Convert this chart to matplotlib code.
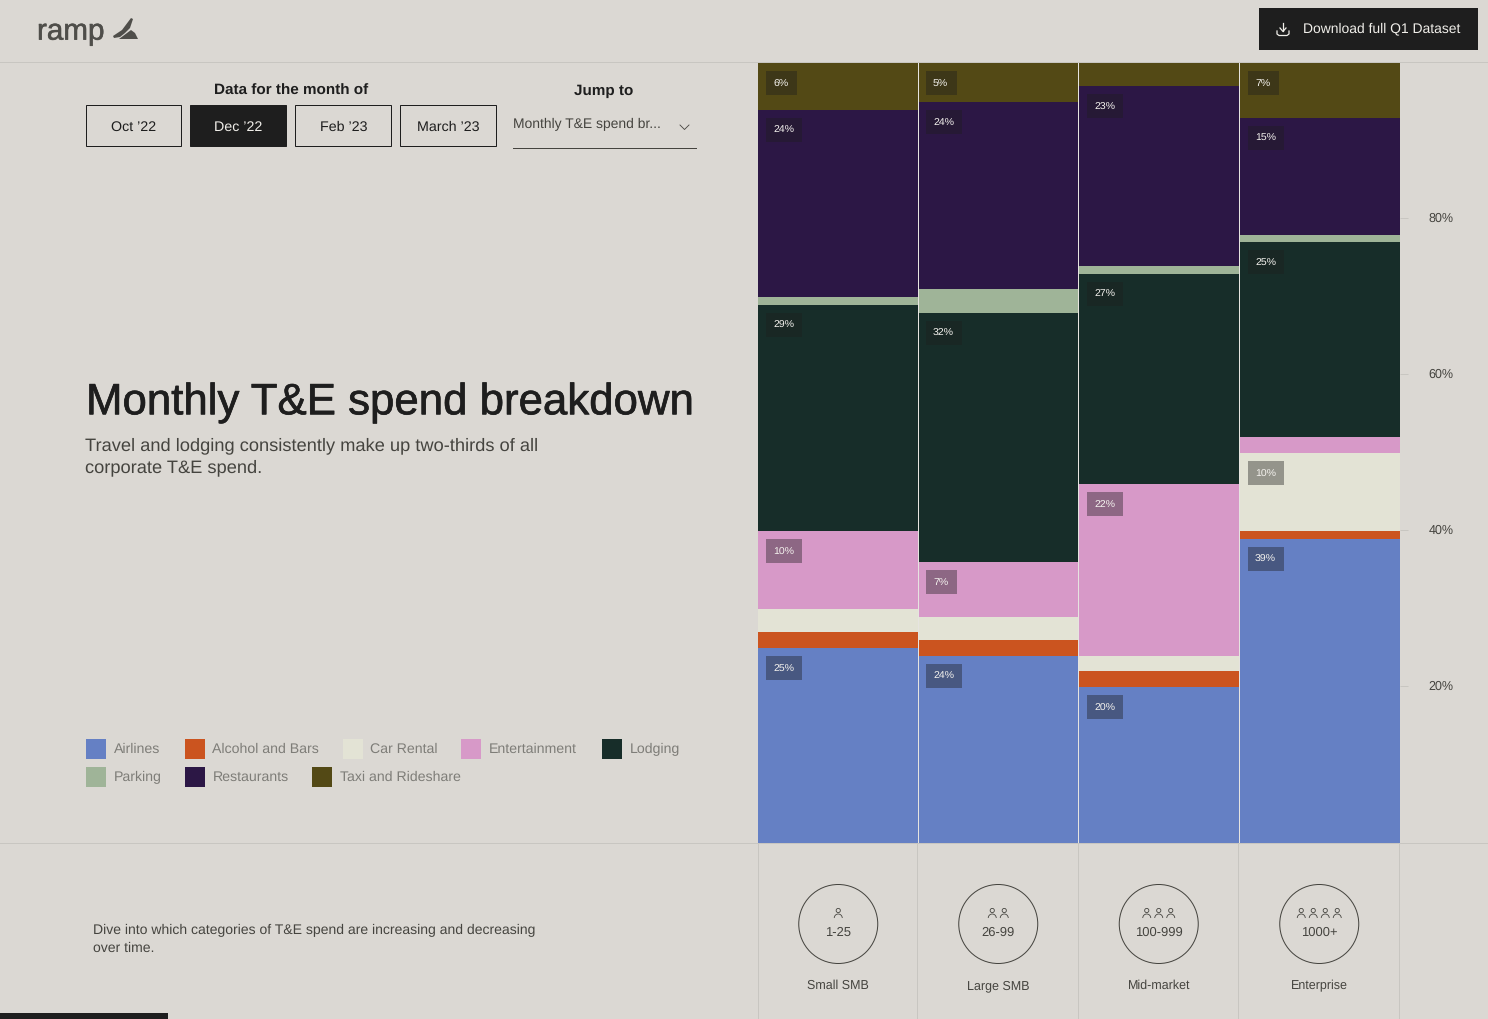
import matplotlib
matplotlib.use('Agg')
import numpy as np
import matplotlib.pyplot as plt
import matplotlib.patheffects as pe
from matplotlib.patches import Rectangle, Circle, Arc, Polygon
from matplotlib.transforms import ScaledTranslation

W, H = 1488, 1019
BG = '#dbd8d3'
INK = '#1e1e1e'
GREY = '#45443f'
RULE = '#c8c6c1'
LW = 0.72  # one pixel at dpi 100

segments = ['1-25', '26-99', '100-999', '1000+']
segment_names = ['Small SMB', 'Large SMB', 'Mid-market', 'Enterprise']
people_icons = [1, 2, 3, 4]

categories = ['Airlines', 'Alcohol and Bars', 'Car Rental', 'Entertainment', 'Lodging',
              'Parking', 'Restaurants', 'Taxi and Rideshare']
colors = ['#6580c4', '#cb541f', '#e3e3d5', '#d799c8', '#172d29',
          '#9fb498', '#2c1745', '#534915']

airlines = [25, 24, 20, 39]
alcohol = [2, 2, 2, 1]
car_rental = [3, 3, 2, 10]
entertainment = [10, 7, 22, 2]
lodging = [29, 32, 27, 25]
parking = [1, 3, 1, 1]
restaurants = [24, 24, 23, 15]
taxi = [6, 5, 3, 7]
series = [airlines, alcohol, car_rental, entertainment, lodging, parking, restaurants, taxi]

y_ticks = [20, 40, 60, 80]
months = ["Oct \u201922", "Dec \u201922", "Feb \u201923", "March \u201923"]

legend_rows = [(748, [(86, 0), (185, 1), (343, 2), (461, 3), (602, 4)]),
               (776, [(86, 5), (185, 6), (312, 7)])]

plt.rcParams['font.family'] = ['Liberation Sans', 'DejaVu Sans']
plt.rcParams['text.hinting'] = 'no_hinting'

fig = plt.figure(figsize=(W / 100, H / 100), dpi=100, facecolor=BG)

# pixel overlay for the page furniture
ui = fig.add_axes([0, 0, 1, 1], zorder=0)
ui.set_xlim(0, W)
ui.set_ylim(H, 0)
ui.axis('off')


def px(size):
    return size * 0.72


def label(x, y, s, size, color=GREY, ha='left', weight='normal', stroke=0):
    t = ui.text(x, y + 0.36 * size, s, fontsize=px(size), color=color, ha=ha, va='baseline', fontweight=weight)
    if stroke:
        t.set_path_effects([pe.withStroke(linewidth=stroke, foreground=color)])
    return t


ui.plot([0, W], [62, 62], color=RULE, lw=LW)
ui.plot([0, W], [843, 843], color=RULE, lw=LW)

# header
label(37, 29, 'ramp', 29.6, color='#4f4e4a', stroke=0.4)
ui.add_patch(Polygon([(131, 18), (133, 19), (130, 28), (125, 33), (120, 37), (114, 38), (113, 36),
                      (122, 30), (128, 22)], closed=True, fc='#4f4e4a', ec='none'))
ui.add_patch(Polygon([(119, 39), (127, 33), (131, 30), (135, 33), (138, 39)], closed=True, fc='#4f4e4a', ec='none'))
ui.add_patch(Rectangle((1259, 8), 219, 42, fc=INK, ec='none'))
label(1303, 27.3, 'Download full Q1 Dataset', 13.9, color='#f0eee9')
ui.plot([1283, 1283], [23, 31], color='#f0eee9', lw=0.9)
ui.plot([1280, 1283, 1286], [28, 31.5, 28], color='#f0eee9', lw=0.9)
ui.plot([1277, 1277, 1279, 1287, 1289, 1289], [31, 34, 35.5, 35.5, 34, 31], color='#f0eee9', lw=0.9)

# month buttons
label(291, 89.5, 'Data for the month of', 15.3, color=INK, ha='center', weight='bold')
label(604, 89.5, 'Jump to', 15.3, color=INK, ha='center', weight='bold')
for i, (x0, w) in enumerate([(86, 96), (190, 97), (295, 97), (400, 97)]):
    on = i == 1
    ui.add_patch(Rectangle((x0, 105), w - 1, 41, fc=INK if on else 'none', ec=INK, lw=LW))
    label(x0 + w / 2, 126, months[i], 14.2, color='#f0eee9' if on else INK, ha='center')
label(513, 123, 'Monthly T&E spend br...', 13.85, color=GREY)
ui.plot([680, 684.5, 689], [125, 129.5, 125], color=GREY, lw=0.6)
ui.plot([513, 695.5], [148, 148], color=GREY, lw=LW)

# headline
label(86, 398.5, 'Monthly T&E spend breakdown', 43.8, color=INK, stroke=0.5)
label(85, 443.3, 'Travel and lodging consistently make up two-thirds of all', 18.3)
label(85, 465.3, 'corporate T&E spend.', 18.3)

# legend
for y, row in legend_rows:
    for x, idx in row:
        ui.add_patch(Rectangle((x, y - 9), 20, 20, fc=colors[idx], ec='none'))
        label(x + 27.5, y, categories[idx], 14.1, color='#7e7d78')

label(93, 929, 'Dive into which categories of T&E spend are increasing and decreasing', 14.05)
label(93, 947, 'over time.', 14.05)

# clipped dark bar at the bottom left
ui.add_patch(Rectangle((-5, 1013), 173, 12, fc=INK, ec='none'))

# footer columns
foot_edges = [758, 917, 1078, 1238, 1399]
for x in foot_edges:
    ui.plot([x, x], [843, H], color=RULE, lw=LW)
for i in range(4):
    cx = (foot_edges[i] + foot_edges[i + 1]) / 2 + 0.75
    ui.add_patch(Circle((cx, 924), 39.5, fc='none', ec=GREY, lw=LW))
    n = people_icons[i]
    for k in range(n):
        ix = cx + (k - (n - 1) / 2) * 12
        ui.add_patch(Circle((ix, 910.5), 2.1, fc='none', ec=GREY, lw=0.6))
        ui.add_patch(Arc((ix, 918), 8, 8, theta1=180, theta2=360, ec=GREY, lw=0.6))
    label(cx, 931, segments[i], 13, ha='center')
    label(cx, 984.3, segment_names[i], 12.5, ha='center')

# stacked bars
ax = fig.add_axes([758 / W, 1 - 843 / H, 642 / W, 780 / H], zorder=1)
ax.patch.set_alpha(0)
ax.set_xlim(-0.5, 3.5)
ax.set_ylim(0, 100)
x_pos = np.arange(len(segments))
bottom = np.zeros(len(segments))
for name, values, color in zip(categories, series, colors):
    values = np.array(values)
    ax.bar(x_pos, values, width=1.0, bottom=bottom, color=color, linewidth=0, label=name)
    bottom += values

for x in x_pos[:-1]:
    ax.axvline(x + 0.495, color='#e6e4e0', lw=LW)

ax.set_xticks([])
ax.yaxis.tick_right()
ax.set_yticks(y_ticks)
ax.set_yticklabels([f'{v}%' for v in y_ticks])
ax.tick_params(axis='y', length=6, width=LW, color=RULE, pad=14.4, labelsize=px(12.5), labelcolor=GREY)
for s in ax.spines.values():
    s.set_visible(False)

# ticks sit a touch above the band edges in the picture
nudge = ScaledTranslation(0, 1.5 / 100, fig.dpi_scale_trans)
for tick in ax.yaxis.get_major_ticks():
    tick.tick2line.set_transform(tick.tick2line.get_transform() + nudge)
    tick.label2.set_transform(tick.label2.get_transform() + nudge)

# percent badges, thin bands carry none in the picture
col_edges = [758, 918, 1079, 1240]
badge_w = {1: 31, 2: 36}
for j in range(len(segments)):
    base = 0
    for values in series:
        v = values[j]
        top_px = 843 - (base + v) * 7.8
        base += v
        if v < 5:
            continue
        x0 = col_edges[j] + 8
        w = badge_w[len(str(v))]
        fig.add_artist(Rectangle((x0 / W, 1 - (top_px + 32) / H), w / W, 24 / H, transform=fig.transFigure,
                                 fc=INK, alpha=0.4, ec='none', zorder=5))
        fig.text((x0 + 7) / W, 1 - (top_px + 21) / H, f'{v}%', fontsize=px(10.5), color='#f4f2ee',
                 ha='left', va='center', zorder=6)

fig.savefig('out.png', dpi=100, facecolor=BG)
